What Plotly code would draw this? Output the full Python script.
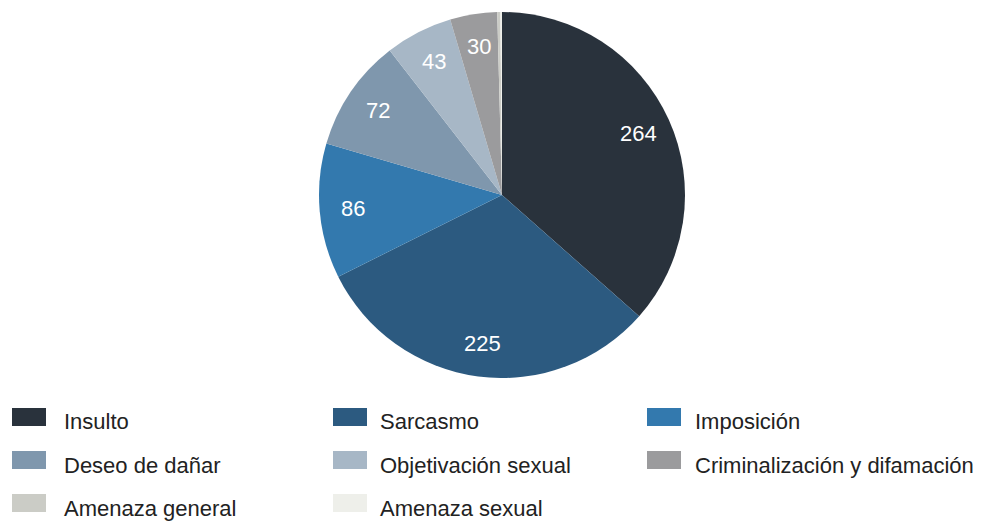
import math
import plotly.graph_objects as go

labels = ["Insulto", "Sarcasmo", "Imposición", "Deseo de dañar",
          "Objetivación sexual", "Criminalización y difamación",
          "Amenaza general", "Amenaza sexual"]
values = [264, 225, 86, 72, 43, 30, 2, 1]
colors = ["#29323c", "#2c5a80", "#3379ae", "#7f97ad",
          "#a7b7c6", "#9b9b9d", "#cbccc6", "#eeefea"]

W, H = 988, 522
ML, MR, MT, MB = 16, 0, 12, 144
FONT = "Liberation Sans, Arial, Helvetica, sans-serif"

fig = go.Figure(go.Pie(
    labels=labels, values=values, sort=False, direction="clockwise",
    rotation=0, marker=dict(colors=colors, line=dict(width=0)),
    textinfo="none", hoverinfo="label+value", showlegend=False,
))

pw, ph = W - ML - MR, H - MT - MB
R = min(pw, ph) / 2.0
def px(x): return (x - ML) / pw
def py(y): return (H - MB - y) / ph

shapes, annos = [], []

# slice value labels placed along each slice's mid angle
total = sum(values)
cum = 0
for v in values:
    mid = (cum + v / 2) / total * 2 * math.pi
    cum += v
    if v < 10:
        continue
    rf = 0.82 * R
    annos.append(dict(xref="paper", yref="paper",
                      x=0.5 + rf * math.sin(mid) / pw,
                      y=0.5 + rf * math.cos(mid) / ph,
                      text=str(v), showarrow=False,
                      xanchor="center", yanchor="middle",
                      font=dict(size=22, color="white", family=FONT)))

# manual legend (3 columns)
sw_x = [12, 333, 647]
tx_x = [63, 379, 694]
row_y = [417, 460, 503]
for i, (lab, col) in enumerate(zip(labels, colors)):
    c = i % 3
    cy = row_y[i // 3]
    shapes.append(dict(type="rect", xref="paper", yref="paper",
                       x0=px(sw_x[c]), x1=px(sw_x[c] + 34),
                       y0=py(cy - 9), y1=py(cy + 9),
                       fillcolor=col, line=dict(width=0)))
    annos.append(dict(xref="paper", yref="paper", x=px(tx_x[c]), y=py(cy + 5),
                      text=lab, showarrow=False, xanchor="left", yanchor="middle",
                      xshift=-1,
                      font=dict(size=22, color="#222222", family=FONT)))

fig.update_layout(
    width=W, height=H, margin=dict(l=ML, r=MR, t=MT, b=MB),
    paper_bgcolor="white", plot_bgcolor="white",
    shapes=shapes, annotations=annos,
    font=dict(family=FONT),
)
fig.write_html("out.html", config={"displayModeBar": False},
               post_script="document.body.style.margin='0';")
